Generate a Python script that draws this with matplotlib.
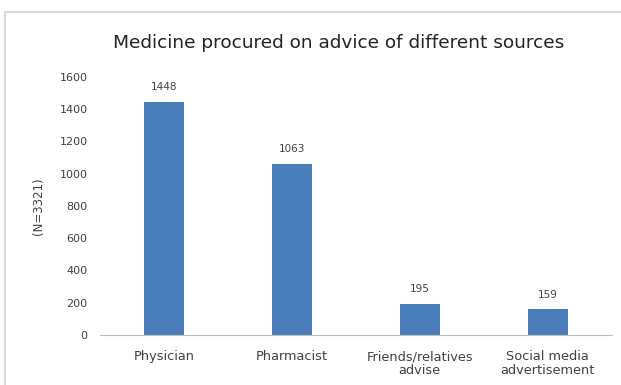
import matplotlib
matplotlib.use("Agg")
import matplotlib.pyplot as plt
from matplotlib.patches import Rectangle

## data
sources = ["Physician", "Pharmacist", "Friends/relatives\nadvise", "Social media\nadvertisement"]
counts = [1448, 1063, 195, 159]
yticks = [0, 200, 400, 600, 800, 1000, 1200, 1400, 1600]

txt = "#404040"
plt.rcParams['font.family'] = ['DejaVu Sans']

fig = plt.figure(figsize=(6.21, 3.85), dpi=100)
ax = fig.add_axes([0.161, 0.130, 0.824, 0.670])

# light chart border
fig.patches.append(Rectangle((0.008, -0.01), 1.2, 0.98, transform=fig.transFigure,
                             fill=False, edgecolor="#d9d9d9", linewidth=1.5))

x = range(len(sources))
bars = ax.bar(x, counts, width=0.31, color="#4a7ebb")
for xi, v in zip(x, counts):
    ax.text(xi, v + 60, str(v), ha="center", va="bottom", fontsize=7.5, color=txt)

ax.set_xlim(-0.5, len(sources) - 0.5)
ax.set_ylim(0, 1600)
ax.set_yticks(yticks)
ax.set_yticklabels([str(t) for t in yticks], fontsize=8, color=txt)
ax.set_xticks(list(x))
ax.set_xticklabels(sources, fontsize=9.3, color=txt, linespacing=1.1)
ax.tick_params(axis="both", length=0)
ax.tick_params(axis="y", pad=9)
ax.tick_params(axis="x", pad=11)

for s in ["top", "right", "left"]:
    ax.spines[s].set_visible(False)
ax.spines["bottom"].set_color("#bfbfbf")

ax.set_ylabel("(N=3321)", fontsize=8.5, color=txt, labelpad=10)
fig.text(0.545, 0.888, "Medicine procured on advice of different sources",
         ha="center", va="center", fontsize=13.3, color="#222222")

fig.savefig("out.png", dpi=100)
